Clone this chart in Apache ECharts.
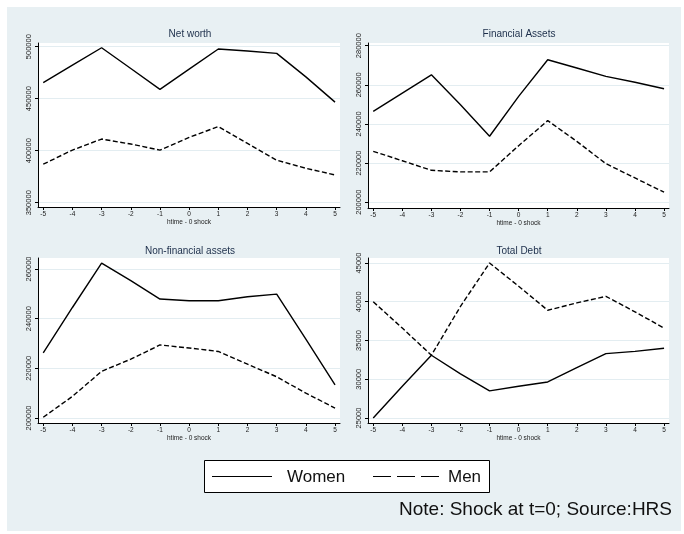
<!DOCTYPE html>
<html><head><meta charset="utf-8">
<script src="https://cdn.jsdelivr.net/npm/echarts@6/dist/echarts.min.js"></script>
<style>
html,body{margin:0;padding:0;background:#fff}
#bg{position:absolute;left:7px;top:7px;width:674px;height:524px;background:#e8f0f3}
#c{position:absolute;left:0;top:0;width:684px;height:534px}
</style>
</head><body><div id="bg"></div><div id="c"></div>
<script>
// ---- data ----
const xValues = [-5, -4, -3, -2, -1, 0, 1, 2, 3, 4, 5];
const netWorthWomen = [465500, 482300, 499000, 479000, 459000, 478400, 497800, 495800, 493600, 471000, 446700];
const netWorthMen   = [387000, 400600, 411200, 406400, 400600, 412800, 423200, 407000, 390900, 383100, 376700];
const finWomen      = [246400, 255800, 265100, 249800, 233700, 254100, 272800, 268600, 264300, 261300, 258000];
const finMen        = [226000, 221200, 216300, 215500, 215500, 228900, 241700, 231100, 219700, 212400, 205100];
const nonfinWomen   = [226200, 244500, 262400, 255300, 247900, 247200, 247200, 248800, 249900, 231800, 213300];
const nonfinMen     = [200300, 208700, 218800, 223700, 229400, 228200, 226800, 221700, 216600, 210000, 204000];
const debtWomen     = [25000, 29100, 33100, 30700, 28500, 29100, 29650, 31500, 33300, 33600, 34000];
const debtMen       = [40000, 36600, 33100, 39400, 45000, 42000, 38900, 39850, 40700, 38700, 36600];
const ticksNet    = [350000, 400000, 450000, 500000];
const ticksFin    = [200000, 220000, 240000, 260000, 280000];
const ticksNonfin = [200000, 220000, 240000, 260000];
const ticksDebt   = [25000, 30000, 35000, 40000, 45000];
const panelTitles = ['Net worth', 'Financial Assets', 'Non-financial assets', 'Total Debt'];
const seriesNames = ['Women', 'Men'];
const xTitle = 'htime - 0 shock';
const noteText = 'Note: Shock at t=0; Source:HRS';

// ---- layout ----
const panels = [
  {women: netWorthWomen, men: netWorthMen, ticks: ticksNet, min: 345870, max: 503560,
   grid: {left: 38, top: 43, width: 302, height: 164}, tx: 190, ty: 34},
  {women: finWomen, men: finMen, ticks: ticksFin, min: 197040, max: 281380,
   grid: {left: 368, top: 43, width: 301, height: 165}, tx: 519, ty: 34},
  {women: nonfinWomen, men: nonfinMen, ticks: ticksNonfin, min: 197990, max: 264430,
   grid: {left: 38, top: 258, width: 302, height: 165}, tx: 190, ty: 251},
  {women: debtWomen, men: debtMen, ticks: ticksDebt, min: 24355, max: 45645,
   grid: {left: 368, top: 258, width: 301, height: 165}, tx: 519, ty: 251}
];

const FONT = '"Liberation Sans", Arial, sans-serif';
const grids = [], xAxes = [], yAxes = [], series = [], graphics = [];

panels.forEach((p, i) => {
  grids.push(Object.assign({show: true, backgroundColor: '#ffffff', borderWidth: 0}, p.grid));
  xAxes.push({
    type: 'value', gridIndex: i, min: -5.18, max: 5.17,
    axisLine: {show: true, onZero: false, lineStyle: {color: '#000', width: 1}},
    axisTick: {show: true, length: 3, customValues: xValues, lineStyle: {color: '#000'}},
    axisLabel: {customValues: xValues, fontSize: 6.5, color: '#222', margin: 4, fontFamily: FONT,
                formatter: v => String(v)},
    splitLine: {show: false},
    name: xTitle, nameLocation: 'middle', nameGap: 12,
    nameTextStyle: {fontSize: 6.5, color: '#222', fontFamily: FONT}
  });
  yAxes.push({
    type: 'value', gridIndex: i, min: p.min, max: p.max,
    axisLine: {show: true, onZero: false, lineStyle: {color: '#000', width: 1}},
    axisTick: {show: true, length: 3, customValues: p.ticks, lineStyle: {color: '#000'}},
    axisLabel: {customValues: p.ticks, rotate: 90, fontSize: 7.5, color: '#222', margin: 5, fontFamily: FONT,
                formatter: v => String(Math.round(v))},
    splitLine: {show: true, lineStyle: {color: '#e3edf1', width: 1}}
  });
  series.push({
    name: seriesNames[0], type: 'line', xAxisIndex: i, yAxisIndex: i,
    symbol: 'none', silent: true, animation: false,
    lineStyle: {color: '#000', width: 1.4, type: 'solid'},
    data: xValues.map((x, k) => [x, p.women[k]])
  });
  series.push({
    name: seriesNames[1], type: 'line', xAxisIndex: i, yAxisIndex: i,
    symbol: 'none', silent: true, animation: false,
    lineStyle: {color: '#000', width: 1.4, type: [5, 2.5]},
    data: xValues.map((x, k) => [x, p.men[k]])
  });
  graphics.push({
    type: 'text', x: p.tx, y: p.ty, z: 100,
    style: {text: panelTitles[i], fill: '#1c2e4a', font: '10px ' + FONT,
            textAlign: 'center', textVerticalAlign: 'middle'}
  });
});

// legend box
graphics.push({type: 'rect', z: 100, shape: {x: 204.5, y: 460.5, width: 285, height: 32},
  style: {fill: '#fff', stroke: '#000', lineWidth: 1}});
graphics.push({type: 'line', z: 101, shape: {x1: 212, y1: 476.5, x2: 272, y2: 476.5},
  style: {stroke: '#000', lineWidth: 1.2}});
graphics.push({type: 'text', z: 101, x: 287, y: 477,
  style: {text: seriesNames[0], fill: '#111', font: '17px ' + FONT, textVerticalAlign: 'middle'}});
graphics.push({type: 'line', z: 101, shape: {x1: 373, y1: 476.5, x2: 439, y2: 476.5},
  style: {stroke: '#000', lineWidth: 1.2, lineDash: [18, 6]}});
graphics.push({type: 'text', z: 101, x: 448, y: 477,
  style: {text: seriesNames[1], fill: '#111', font: '17px ' + FONT, textVerticalAlign: 'middle'}});
// note
graphics.push({type: 'text', z: 101, x: 672, y: 510,
  style: {text: noteText, fill: '#111', font: '19px ' + FONT, textAlign: 'right', textVerticalAlign: 'middle'}});

const chart = echarts.init(document.getElementById('c'), null, {renderer: 'canvas'});
chart.setOption({
  backgroundColor: 'transparent',
  animation: false,
  grid: grids, xAxis: xAxes, yAxis: yAxes, series: series,
  graphic: graphics
});
</script>
</body></html>
